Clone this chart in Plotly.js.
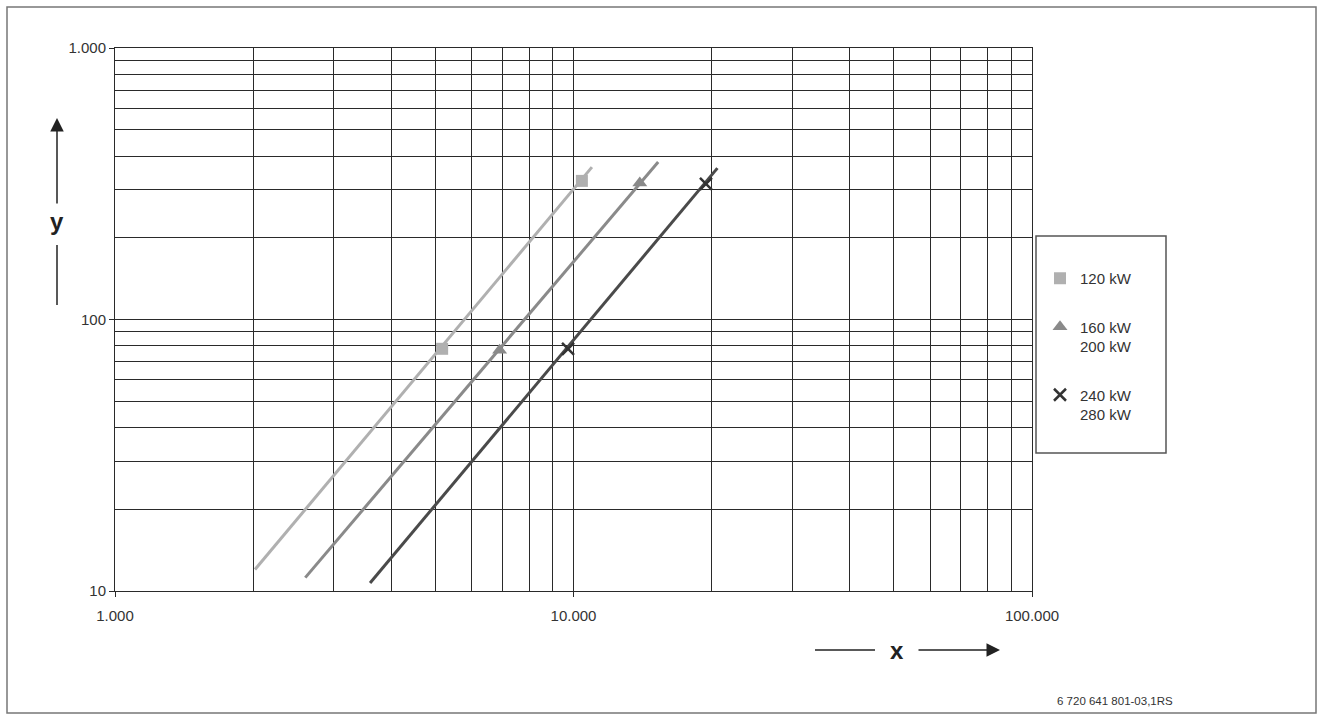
<!DOCTYPE html>
<html>
<head>
<meta charset="utf-8">
<script src="https://cdn.plot.ly/plotly-3.0.1.min.js"></script>
<style>
  html, body { margin: 0; padding: 0; background: #fff; }
  #chart { width: 1323px; height: 715px; }
</style>
</head>
<body>
<div id="chart"></div>
<script>
// Kennlinien (log-log), Endpunkte der Geraden
var line120X = [2020, 10970];
var line120Y = [12, 364];
var line160X = [2600, 15300];
var line160Y = [11.2, 380];
var line240X = [3600, 20600];
var line240Y = [10.7, 361];

// Messpunkte (Marker)
var pts120X = [5170, 10430];
var pts120Y = [78, 324];
var pts160X = [6900, 13950];
var pts160Y = [77, 318];
var pts240X = [9730, 19450];
var pts240Y = [78, 316];

var names = ['120 kW', '160 kW<br>200 kW', '240 kW<br>280 kW'];

// Achsen: beschriftete Ticks und Gitterlinien
var xTickVals = [1000, 10000, 100000];
var xTickText = ['1.000', '10.000', '100.000'];
var xGridVals = [2000, 3000, 4000, 5000, 6000, 7000, 8000, 9000,
                 20000, 30000, 40000, 50000, 60000, 70000, 80000, 90000];
var yTickVals = [10, 100, 1000];
var yTickText = ['10', '100', '1.000'];
var yGridVals = [20, 30, 40, 50, 60, 70, 80, 90,
                 200, 300, 400, 500, 600, 700, 800, 900];

// Plotbereich in Pixeln (fuer Pfeile und Rahmen)
var L = 115, R = 1032, T = 48, B = 591;
function px(x) { return (x - L) / (R - L); }
function py(y) { return (B - y) / (B - T); }

var gridColor = '#2a2a2a';
var textColor = '#333';

var traces = [
  { x: line120X, y: line120Y, mode: 'lines', line: { color: '#b0b0b0', width: 3 }, showlegend: false, hoverinfo: 'skip' },
  { x: line160X, y: line160Y, mode: 'lines', line: { color: '#8a8a8a', width: 3 }, showlegend: false, hoverinfo: 'skip' },
  { x: line240X, y: line240Y, mode: 'lines', line: { color: '#4a4a4a', width: 3 }, showlegend: false, hoverinfo: 'skip' },
  { x: pts120X, y: pts120Y, mode: 'markers', name: names[0], legendgroup: 'a',
    marker: { symbol: 'square', size: 12, color: '#b0b0b0' } },
  { x: pts160X, y: pts160Y, mode: 'markers', name: names[1], legendgroup: 'b',
    marker: { symbol: 'triangle-up', size: 13, color: '#8a8a8a' } },
  { x: pts240X, y: pts240Y, mode: 'markers', name: names[2], legendgroup: 'c',
    marker: { symbol: 'x-thin', size: 12, line: { color: '#333', width: 2.5 } } }
];

var layout = {
  width: 1323,
  height: 715,
  margin: { l: L, r: 1323 - R, t: T, b: 715 - B },
  paper_bgcolor: '#fff',
  plot_bgcolor: '#fff',
  font: { family: 'Liberation Sans, Arial, sans-serif', size: 15, color: textColor },
  xaxis: {
    type: 'log',
    range: [3, 5],
    tickmode: 'array',
    tickvals: xTickVals,
    ticktext: xTickText,
    ticks: 'outside',
    ticklen: 5,
    tickcolor: gridColor,
    ticklabelstandoff: 6,
    showgrid: true,
    gridcolor: gridColor,
    gridwidth: 1,
    minor: { tickmode: 'array', tickvals: xGridVals, showgrid: true, gridcolor: gridColor, gridwidth: 1, ticks: '' },
    showline: true,
    linecolor: gridColor,
    linewidth: 1,
    mirror: true,
    zeroline: false
  },
  yaxis: {
    type: 'log',
    range: [1, 3],
    tickmode: 'array',
    tickvals: yTickVals,
    ticktext: yTickText,
    ticks: 'outside',
    ticklen: 5,
    tickcolor: gridColor,
    showgrid: true,
    gridcolor: gridColor,
    gridwidth: 1,
    minor: { tickmode: 'array', tickvals: yGridVals, showgrid: true, gridcolor: gridColor, gridwidth: 1, ticks: '' },
    showline: true,
    linecolor: gridColor,
    linewidth: 1,
    mirror: true,
    zeroline: false
  },
  showlegend: true,
  legend: {
    x: px(1040),
    xanchor: 'left',
    y: py(262),
    yanchor: 'top',
    bgcolor: 'rgba(0,0,0,0)',
    borderwidth: 0,
    tracegroupgap: 26,
    valign: 'top',
    font: { size: 15, color: textColor }
  },
  shapes: [
    // aeusserer Rahmen
    { type: 'rect', xref: 'paper', yref: 'paper', x0: px(7), x1: px(1316), y0: py(713), y1: py(7),
      line: { color: '#777', width: 1.5 } },
    // Legendenrahmen
    { type: 'rect', xref: 'paper', yref: 'paper', x0: px(1036), x1: px(1166), y0: py(453), y1: py(236),
      line: { color: '#555', width: 1.5 }, fillcolor: 'rgba(0,0,0,0)' },
    // y-Pfeil unterer Teil
    { type: 'line', xref: 'paper', yref: 'paper', x0: px(57), x1: px(57), y0: py(305), y1: py(245),
      line: { color: '#222', width: 1.5 } },
    // x-Pfeil linker Teil
    { type: 'line', xref: 'paper', yref: 'paper', x0: px(815), x1: px(875), y0: py(650), y1: py(650),
      line: { color: '#222', width: 1.5 } }
  ],
  annotations: [
    { xref: 'paper', yref: 'paper', x: px(57), y: py(222), xanchor: 'center', yanchor: 'middle',
      text: '<b>y</b>', showarrow: false, font: { size: 24, color: '#222' } },
    { xref: 'paper', yref: 'paper', x: px(57), y: py(118), ax: 0, ay: 87, text: '',
      showarrow: true, arrowhead: 2, arrowsize: 1.8, arrowwidth: 1.5, arrowcolor: '#222' },
    { xref: 'paper', yref: 'paper', x: px(897), y: py(650), xanchor: 'center', yanchor: 'middle',
      text: '<b>x</b>', showarrow: false, font: { size: 24, color: '#222' } },
    { xref: 'paper', yref: 'paper', x: px(1000), y: py(650), ax: -83, ay: 0, text: '',
      showarrow: true, arrowhead: 2, arrowsize: 1.8, arrowwidth: 1.5, arrowcolor: '#222' },
    { xref: 'paper', yref: 'paper', x: px(1115), y: py(701), xanchor: 'center', yanchor: 'middle',
      text: '6 720 641 801-03,1RS', showarrow: false, font: { size: 11.5, color: textColor } }
  ]
};

Plotly.newPlot('chart', traces, layout, { displayModeBar: false, staticPlot: true });
</script>
</body>
</html>
